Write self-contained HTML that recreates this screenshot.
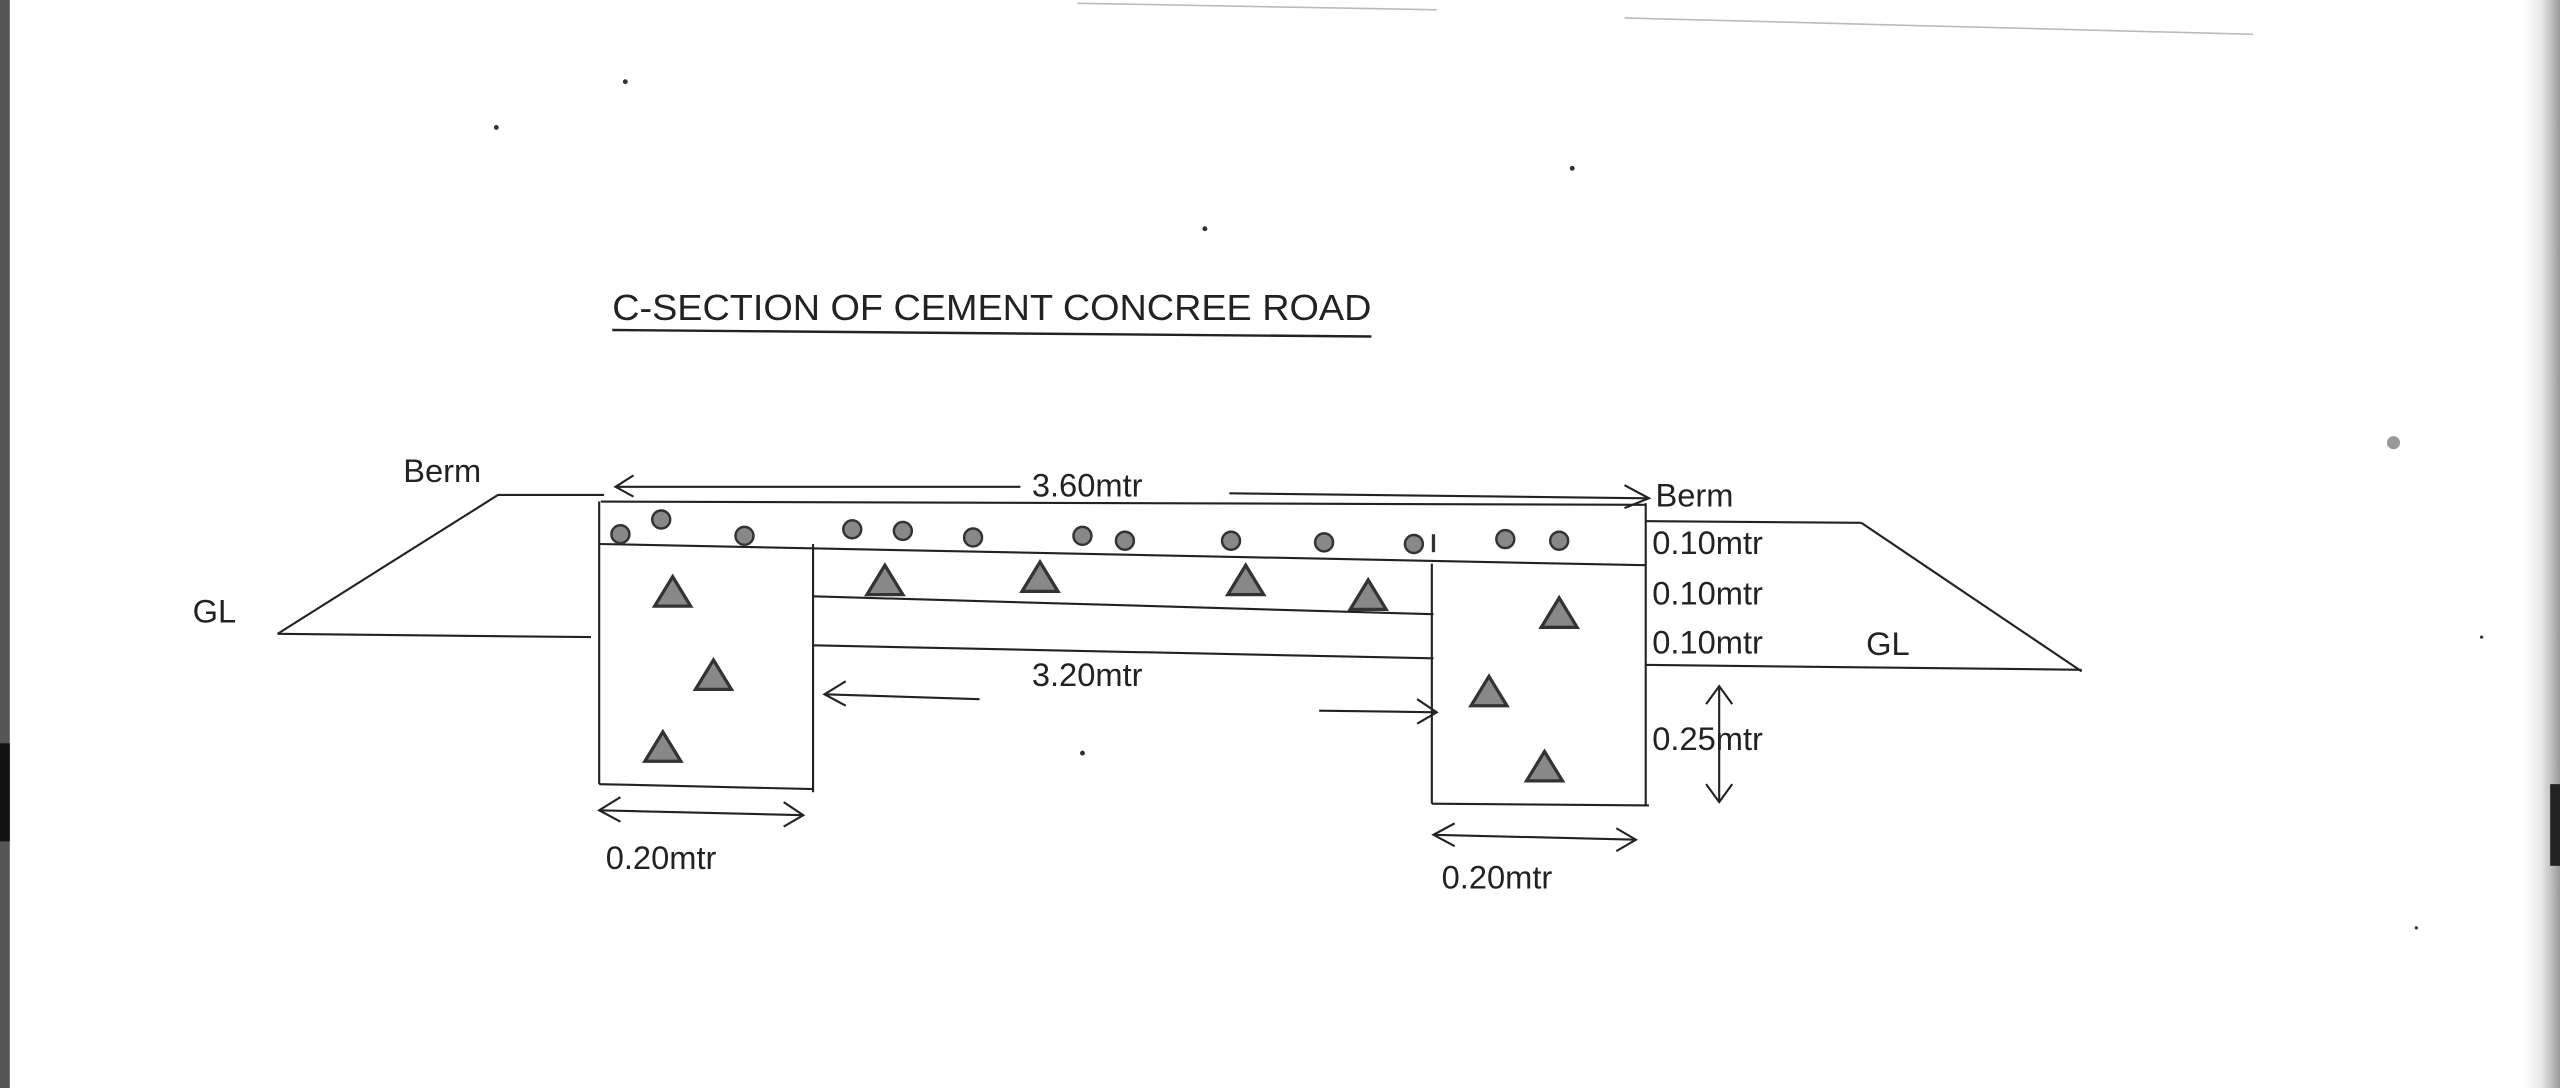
<!DOCTYPE html>
<html><head><meta charset="utf-8"><style>
html,body{margin:0;padding:0;background:#fff;width:2560px;height:1088px;overflow:hidden}
svg{display:block}
text{font-family:"Liberation Sans",sans-serif;fill:#222}
</style></head><body>
<svg width="2560" height="1088" viewBox="0 0 1568 666" preserveAspectRatio="none" xmlns="http://www.w3.org/2000/svg">
<defs>
<linearGradient id="rg" x1="0" x2="1"><stop offset="0" stop-color="#fff"/><stop offset="0.5" stop-color="#e8e8e8"/><stop offset="1" stop-color="#9a9a9a"/></linearGradient>
<g id="c"><circle r="5.5" fill="#888" stroke="#333" stroke-width="1.5"/></g>
<g id="t"><polygon points="0,-10 -11,8 11,8" fill="#888" stroke="#333" stroke-width="2"/></g>
</defs>
<rect width="1568" height="666" fill="#fff"/>
<rect x="0" y="0" width="6" height="666" fill="#555"/>
<rect x="1545" y="0" width="23" height="666" fill="url(#rg)"/>
<rect x="0" y="455" width="6" height="60" fill="#111"/>
<rect x="1562" y="480" width="6" height="50" fill="#222"/>
<g stroke="#bbb" stroke-width="1"><line x1="660" y1="2" x2="880" y2="6"/><line x1="995" y1="11" x2="1380" y2="21"/></g>

<text x="375" y="196" font-family="Liberation Sans" font-size="22" textLength="465" lengthAdjust="spacingAndGlyphs">C-SECTION OF CEMENT CONCREE ROAD</text>
<line x1="375" y1="202" x2="840" y2="206" stroke="#222" stroke-width="1.5"/>

<g stroke="#222" stroke-width="1.3" fill="none">
<polyline points="170,388 305,303 370,303"/>
<line x1="170" y1="388" x2="362" y2="390"/>
<line x1="368" y1="307" x2="1008" y2="309"/>
<line x1="1008" y1="319" x2="1140" y2="320"/>
<line x1="1140" y1="320" x2="1275" y2="411"/>
<line x1="1008" y1="407" x2="1275" y2="410"/>
<line x1="367" y1="333" x2="1008" y2="346"/>
<line x1="367" y1="307" x2="367" y2="480"/>
<line x1="367" y1="480" x2="498" y2="483"/>
<line x1="498" y1="333" x2="498" y2="485"/>
<line x1="498" y1="365" x2="878" y2="376"/>
<line x1="498" y1="395" x2="878" y2="403"/>
<line x1="877" y1="345" x2="877" y2="492"/>
<line x1="877" y1="492" x2="1010" y2="493"/>
<line x1="1008" y1="308" x2="1008" y2="493"/>
<!-- arrows -->
<line x1="377" y1="298" x2="625" y2="298"/><polyline points="388,291 377,298 388,304"/>
<line x1="753" y1="302" x2="1010" y2="305"/><polyline points="995,297 1010,305 995,311"/>
<line x1="505" y1="425" x2="600" y2="428"/><polyline points="518,417 505,425 518,432"/>
<line x1="808" y1="435" x2="880" y2="436"/><polyline points="868,428 880,436 868,443"/>
<line x1="367" y1="496" x2="492" y2="499"/><polyline points="380,488 367,496 380,503"/><polyline points="480,491 492,499 480,506"/>
<line x1="878" y1="511" x2="1002" y2="514"/><polyline points="891,504 878,511 891,518"/><polyline points="990,507 1002,514 990,521"/>
<line x1="1053" y1="420" x2="1053" y2="491"/><polyline points="1045,431 1053,420 1061,431"/><polyline points="1045,480 1053,491 1061,480"/>
</g>

<g>
<use href="#c" x="380" y="327"/><use href="#c" x="405" y="318"/><use href="#c" x="456" y="328"/>
<use href="#c" x="522" y="324"/><use href="#c" x="553" y="325"/><use href="#c" x="596" y="329"/>
<use href="#c" x="663" y="328"/><use href="#c" x="689" y="331"/><use href="#c" x="754" y="331"/>
<use href="#c" x="811" y="332"/><use href="#c" x="866" y="333"/><use href="#c" x="922" y="330"/><use href="#c" x="955" y="331"/>
<line x1="878" y1="327" x2="878" y2="338" stroke="#333" stroke-width="2"/>
<use href="#t" x="412" y="363"/><use href="#t" x="437" y="414"/><use href="#t" x="406" y="458"/>
<use href="#t" x="542" y="356"/><use href="#t" x="637" y="354"/><use href="#t" x="763" y="356"/><use href="#t" x="838" y="365"/>
<use href="#t" x="955" y="376"/><use href="#t" x="912" y="424"/><use href="#t" x="946" y="470"/>
</g>

<g font-size="20">
<text x="247" y="295">Berm</text>
<text x="118" y="381">GL</text>
<text x="632" y="304">3.60mtr</text>
<text x="1014" y="310">Berm</text>
<text x="1012" y="339">0.10mtr</text>
<text x="1012" y="370">0.10mtr</text>
<text x="1012" y="400">0.10mtr</text>
<text x="1143" y="401">GL</text>
<text x="632" y="420">3.20mtr</text>
<text x="1012" y="459">0.25mtr</text>
<text x="371" y="532">0.20mtr</text>
<text x="883" y="544">0.20mtr</text>
</g>
<g fill="#333"><circle cx="383" cy="50" r="1.5"/><circle cx="304" cy="78" r="1.5"/><circle cx="963" cy="103" r="1.5"/><circle cx="738" cy="140" r="1.5"/><circle cx="663" cy="461" r="1.5"/><circle cx="1466" cy="271" r="4" fill="#999"/><circle cx="1520" cy="390" r="1"/><circle cx="1480" cy="568" r="1"/></g>
</svg>
</body></html>
